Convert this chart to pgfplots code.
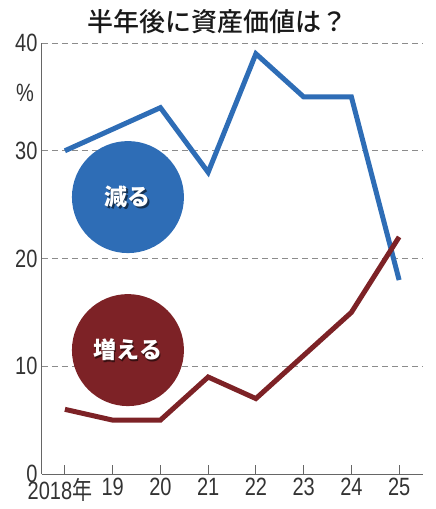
\documentclass[border=0pt]{standalone}
\usepackage{fontspec}
\usepackage{pgfplots}
\pgfplotsset{compat=1.18}
\setmainfont{Liberation Sans}
\newfontfamily\cond[FakeStretch=0.8]{Liberation Sans}
\newfontfamily\jp{Noto Sans CJK JP}
\newfontfamily\jpmed{Noto Sans CJK JP Medium}
\newfontfamily\jpcond[FakeStretch=0.8]{Noto Sans CJK JP}
\definecolor{blu}{HTML}{2E6DB6}
\definecolor{wine}{HTML}{7D2226}
\definecolor{axgray}{HTML}{666666}
\begin{document}
\begin{tikzpicture}
\useasboundingbox (-42bp,-35bp) rectangle (394bp,474bp);
\begin{axis}[
  scale only axis, width=381bp, height=431bp,
  xmin=2017.52, xmax=2025.5, ymin=0, ymax=40,
  axis x line*=bottom, axis y line*=left,
  axis line style={draw=axgray, line width=1bp, -},
  xtick={2018,2019,2020,2021,2022,2023,2024,2025},
  xticklabels={{\hspace*{-10bp}2018{\jpcond 年}},19,20,21,22,23,24,25},
  ytick={0,10,20,30,40},
  tick align=inside, major tick length=9bp,
  tick style={draw=axgray, line width=1bp},
  every y tick/.style={draw=none},
  ymajorgrids,
  grid style={draw=black!45, line width=0.9bp, dash pattern=on 6bp off 4bp},
  tick label style={font=\fontsize{25bp}{27bp}\cond, text=black!80},
  xticklabel style={yshift=-1bp},
  yticklabel style={xshift=-1bp},
  /pgf/number format/assume math mode=true,
  clip=false,
]
\node[circle, fill=blu, minimum size=112bp, inner sep=0pt] at (axis cs:2019.32,25.7) {};
\node[circle, fill=wine, minimum size=112bp, inner sep=0pt] at (axis cs:2019.32,11.5) {};
\node[text=black, opacity=0.55, font=\fontsize{23bp}{25bp}\jp\bfseries] at ([xshift=1.2bp,yshift=-1.2bp]axis cs:2019.32,25.7) {減る};
\node[text=white, font=\fontsize{23bp}{25bp}\jp\bfseries] at (axis cs:2019.32,25.7) {減る};
\node[text=black, opacity=0.55, font=\fontsize{23bp}{25bp}\jp\bfseries] at ([xshift=1.2bp,yshift=-1.2bp]axis cs:2019.32,11.5) {増える};
\node[text=white, font=\fontsize{23bp}{25bp}\jp\bfseries] at (axis cs:2019.32,11.5) {増える};
\addplot[blu, line width=5bp] coordinates {(2018,30)(2019,32)(2020,34)(2021,28)(2022,39)(2023,35)(2024,35)(2025,18)};
\addplot[wine, line width=5bp] coordinates {(2018,6)(2019,5)(2020,5)(2021,9)(2022,7)(2023,11)(2024,15)(2025,22)};
\node[font=\fontsize{25bp}{27bp}\cond, text=black!80] at ([xshift=-17bp]axis description cs:0,0.884) {\%};
\node[font=\fontsize{26bp}{28bp}\jpmed, text=black!90] at ([yshift=21bp]axis description cs:0.46,1) {半年後に資産価値は？};
\end{axis}
\end{tikzpicture}
\end{document}
